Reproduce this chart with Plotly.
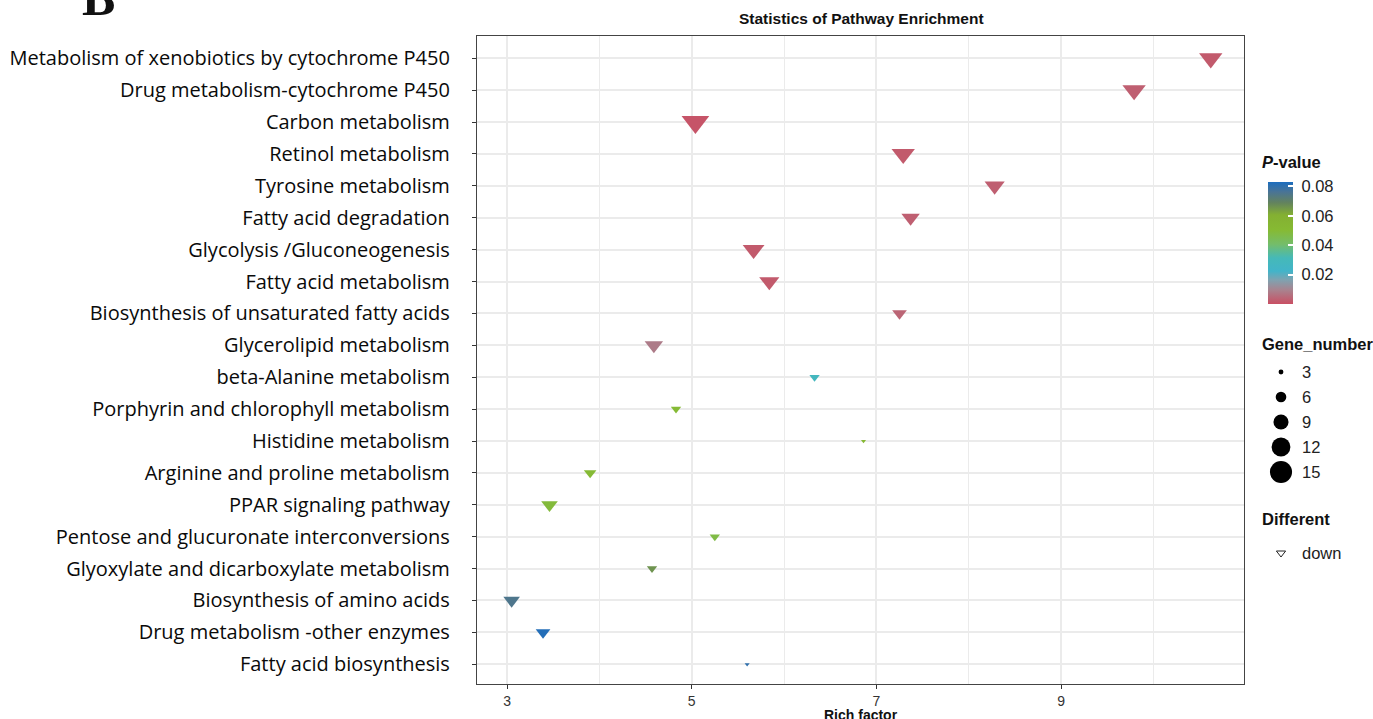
import numpy as np
import plotly.graph_objects as go

# ---------------- data ----------------
pathways = [
    "Metabolism of xenobiotics by cytochrome P450",
    "Drug metabolism-cytochrome P450",
    "Carbon metabolism",
    "Retinol metabolism",
    "Tyrosine metabolism",
    "Fatty acid degradation",
    "Glycolysis /Gluconeogenesis",
    "Fatty acid metabolism",
    "Biosynthesis of unsaturated fatty acids",
    "Glycerolipid metabolism",
    "beta-Alanine metabolism",
    "Porphyrin and chlorophyll metabolism",
    "Histidine metabolism",
    "Arginine and proline metabolism",
    "PPAR signaling pathway",
    "Pentose and glucuronate interconversions",
    "Glyoxylate and dicarboxylate metabolism",
    "Biosynthesis of amino acids",
    "Drug metabolism -other enzymes",
    "Fatty acid biosynthesis",
]
rich_factor = [10.62, 9.79, 5.04, 7.29, 8.28, 7.37, 5.67, 5.84, 7.25, 4.59,
               6.33, 4.83, 6.86, 3.90, 3.46, 5.25, 4.57, 3.05, 3.39, 5.60]
gene_number = [12, 12, 15, 12, 10, 9, 11, 10, 7, 9,
               5, 5, 3, 6, 8, 5, 5, 8, 7, 3]
p_value = [0.002, 0.003, 0.001, 0.002, 0.003, 0.003, 0.002, 0.002, 0.004, 0.008,
           0.028, 0.050, 0.052, 0.050, 0.049, 0.047, 0.066, 0.075, 0.082, 0.080]

size_breaks = [3, 6, 9, 12, 15]
pv_ticks = [0.02, 0.04, 0.06, 0.08]
pv_range = [0.0, 0.083]
x_ticks = [3, 5, 7, 9]
direction_levels = ["down"]

# ---------------- styling ----------------
W, H = 1373, 719
ML, MR, MT, MB = 477, 0, 36, 35
PLOT_R = 1244  # right edge of panel in px
LEG_L = 1250   # left edge of legend area in px
PW = W - ML - MR
PH = H - MT - MB


def px_x(px):
    return (px - ML) / PW


def px_y(py):
    return (H - MB - py) / PH


colorscale = [
    [0.00, "#c94f63"],
    [0.115, "#a8838f"],
    [0.197, "#7fa2b0"],
    [0.27, "#42b4c9"],
    [0.377, "#45b9b8"],
    [0.49, "#74bd6a"],
    [0.607, "#86ba33"],
    [0.73, "#84b032"],
    [0.83, "#63835e"],
    [0.918, "#4a7495"],
    [1.00, "#1c6dbe"],
]

sq = np.sqrt
nmin, nmax = min(size_breaks), max(size_breaks)


def tri_size(n):
    n = np.asarray(n, dtype=float)
    return 4.4 + 19.6 * (sq(n) - sq(nmin)) / (sq(nmax) - sq(nmin))


fig = go.Figure()

fig.add_trace(go.Scatter(
    x=rich_factor, y=pathways, mode="markers",
    marker=dict(
        symbol="triangle-down",
        size=tri_size(gene_number),
        opacity=1,
        color=p_value, cmin=pv_range[0], cmax=pv_range[1],
        colorscale=colorscale,
        line=dict(width=0),
        showscale=True,
        colorbar=dict(
            x=px_x(1268), xanchor="left", xpad=0,
            y=px_y(243), yanchor="middle", ypad=0,
            len=122, lenmode="pixels", thickness=25,
            outlinewidth=0,
            tickvals=pv_ticks, ticktext=["\u00a0" + f"{v:.2f}" for v in pv_ticks],
            ticks="inside", ticklen=5, tickcolor="white", tickwidth=1.5,
            tickfont=dict(family="Liberation Sans, Arial", size=16.5, color="#222"),
        ),
    ),
    showlegend=False, hoverinfo="x+y",
))

# size legend (auxiliary axis in pixel units, placed in the right-hand legend area)
leg_y = [372 + 25 * i for i in range(len(size_breaks))]
fig.add_trace(go.Scatter(
    x=[1281] * len(size_breaks), y=leg_y, mode="markers",
    marker=dict(symbol="circle", size=0.88 * tri_size(size_breaks) + 1,
                color="black", opacity=1, line=dict(width=0)),
    xaxis="x2", yaxis="y2", showlegend=False, hoverinfo="skip", cliponaxis=False,
))
diff_y = [553]
fig.add_trace(go.Scatter(
    x=[1281] * len(direction_levels), y=diff_y, mode="markers",
    marker=dict(symbol="triangle-down-open", size=8, color="#222", line=dict(width=1)),
    xaxis="x2", yaxis="y2", showlegend=False, hoverinfo="skip", cliponaxis=False,
))

grid_c = "#ebebeb"
fig.update_layout(
    width=W, height=H,
    margin=dict(l=ML, r=MR, t=MT, b=MB),
    paper_bgcolor="white", plot_bgcolor="rgba(0,0,0,0)",
    xaxis=dict(
        domain=[0, px_x(PLOT_R)],
        range=[2.675, 10.98],
        tickvals=x_ticks, ticks="outside", ticklen=4, tickcolor="#333",
        tickfont=dict(family="Liberation Sans Narrow, Arial Narrow, Liberation Sans", size=14, color="#333"),
        showgrid=True, gridcolor=grid_c, gridwidth=1.5,
        minor=dict(dtick=1, tick0=3, showgrid=True, gridcolor=grid_c, gridwidth=1.2, ticks=""),
        showline=True, mirror=True, linecolor="#444", linewidth=1.2,
        zeroline=False, fixedrange=True,
    ),
    yaxis=dict(
        type="category", categoryorder="array", categoryarray=pathways,
        range=[19.62, -0.7],
        ticks="outside", ticklen=4, tickcolor="#333",
        ticklabelstandoff=18,
        tickfont=dict(family="Open Sans, Noto Sans", size=20, color="#0a0a0a"),
        showgrid=True, gridcolor=grid_c, gridwidth=1.5,
        showline=True, mirror=True, linecolor="#444", linewidth=1.2,
        zeroline=False, fixedrange=True,
    ),
    xaxis2=dict(domain=[px_x(LEG_L), 1], range=[LEG_L, W], visible=False, anchor="y2", fixedrange=True),
    yaxis2=dict(domain=[0, 1], range=[H - MB, MT], visible=False, anchor="x2", fixedrange=True),
)

ann_font = dict(family="Liberation Sans, Arial", color="#111")
annotations = [
    dict(text="<b>Statistics of Pathway Enrichment</b>", x=px_x(861), y=px_y(18),
         xanchor="center", yanchor="middle", font=dict(size=15.5, **ann_font)),
    dict(text="<b>Rich factor</b>", x=px_x(861), y=px_y(714.5),
         xanchor="center", yanchor="middle",
         font=dict(family="Liberation Sans Narrow, Arial Narrow, Liberation Sans", size=14, color="#111")),
    dict(text="<b><i>P</i>-value</b>", x=px_x(1260), y=px_y(162),
         xanchor="left", yanchor="middle", font=dict(size=16.5, **ann_font)),
    dict(text="<b>Gene_number</b>", x=px_x(1260), y=px_y(344),
         xanchor="left", yanchor="middle", font=dict(size=16.5, **ann_font)),
    dict(text="<b>Different</b>", x=px_x(1260), y=px_y(519),
         xanchor="left", yanchor="middle", font=dict(size=16.5, **ann_font)),
    dict(text="<b>B</b>", x=px_x(98), y=px_y(-2), xanchor="center", yanchor="middle",
         font=dict(family="Liberation Serif, DejaVu Serif", size=50, color="#111")),
]
for a in annotations:
    a.update(xref="paper", yref="paper", showarrow=False)

leg_font = dict(family="Liberation Sans, Arial", size=16.5, color="#222")
for b, yy in zip(size_breaks, leg_y):
    annotations.append(dict(text=str(b), x=1300, y=yy, xref="x2", yref="y2",
                            xanchor="left", yanchor="middle", showarrow=False, font=leg_font))
for lv, yy in zip(direction_levels, diff_y):
    annotations.append(dict(text=lv, x=1300, y=yy, xref="x2", yref="y2",
                            xanchor="left", yanchor="middle", showarrow=False, font=leg_font))
fig.update_layout(annotations=annotations)

fig.write_html("out.html", config={"displayModeBar": False},
               post_script="document.body.style.margin='0px';")
